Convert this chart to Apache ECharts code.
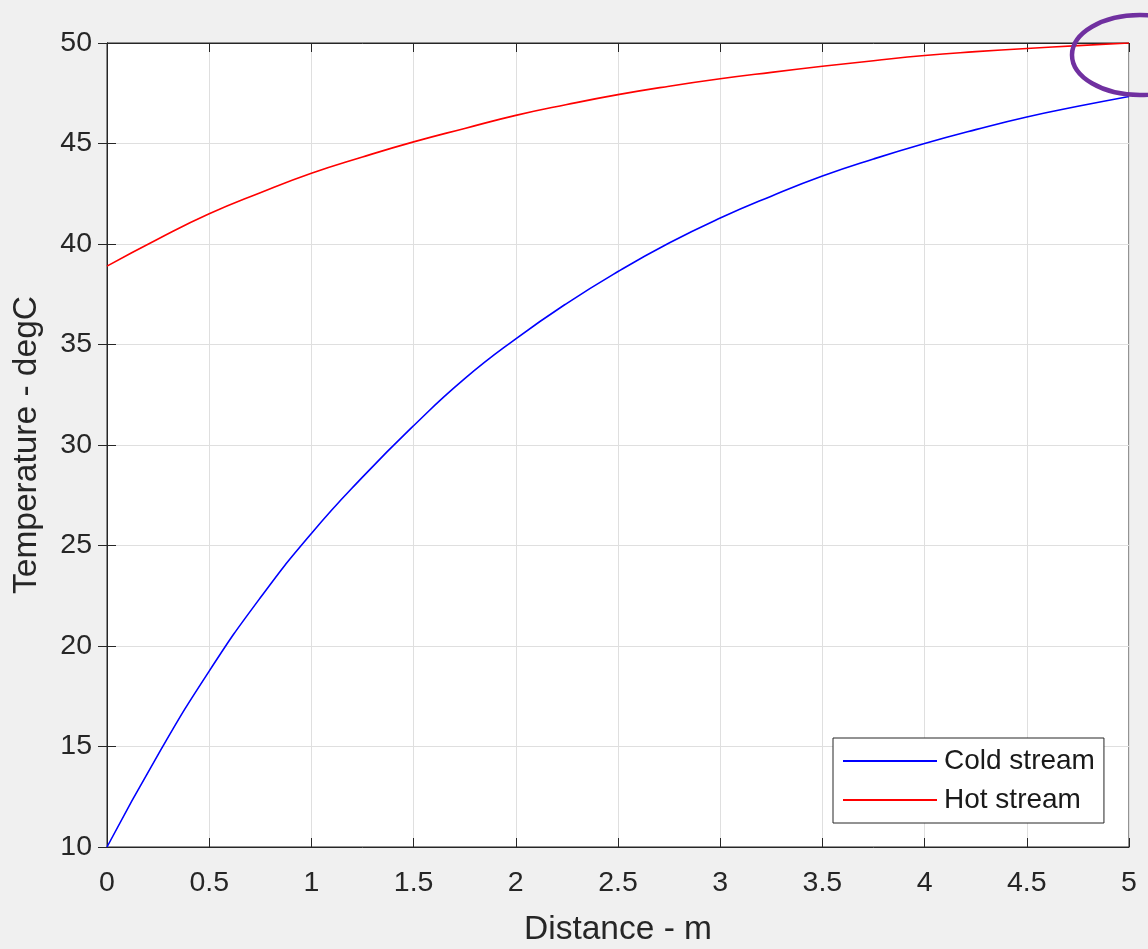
<!DOCTYPE html>
<html>
<head>
<meta charset="utf-8">
<script src="https://cdn.jsdelivr.net/npm/echarts@6/dist/echarts.min.js"></script>
<style>
html,body{margin:0;padding:0;background:#f0f0f0;}
#chart{width:1148px;height:949px;}
</style>
</head>
<body>
<div id="chart"></div>
<script>
// Distance along exchanger (m)
const distance = [0, 0.25, 0.5, 0.75, 1, 1.25, 1.5, 1.75, 2, 2.25, 2.5, 2.75, 3, 3.25, 3.5, 3.75, 4, 4.25, 4.5, 4.75, 5];
// Cold stream temperature (degC)
const coldStream = [10, 14.6, 18.75, 22.4, 25.6, 28.4, 30.96, 33.3, 35.28, 37.05, 38.63, 40.05, 41.29, 42.38, 43.38, 44.23, 45.0, 45.69, 46.32, 46.85, 47.34];
// Hot stream temperature (degC)
const hotStream = [38.9, 40.25, 41.5, 42.55, 43.52, 44.33, 45.08, 45.75, 46.4, 46.94, 47.43, 47.85, 48.22, 48.54, 48.84, 49.12, 49.38, 49.57, 49.73, 49.87, 50.0];
const seriesNames = ['Cold stream', 'Hot stream'];
const xTitle = 'Distance - m';
const yTitle = 'Temperature - degC';

const FONT = '"Liberation Sans", Arial, Helvetica, sans-serif';
const TXT = '#262626';

const pairs = (ys) => distance.map((x, i) => [x, ys[i]]);

const chart = echarts.init(document.getElementById('chart'), null, {renderer: 'canvas'});

const axisLine = {show: true, lineStyle: {color: TXT, width: 1}};
const tick = {show: true, inside: true, length: 9, lineStyle: {color: TXT, width: 1}};

chart.setOption({
  backgroundColor: '#f0f0f0',
  animation: false,
  textStyle: {fontFamily: FONT},
  grid: {
    left: 107, right: 19, top: 43, bottom: 102,
    show: true, backgroundColor: '#ffffff', borderColor: TXT, borderWidth: 1,
    containLabel: false, outerBoundsMode: 'none'
  },
  xAxis: [
    {
      type: 'value', min: 0, max: 5, interval: 0.5,
      name: xTitle, nameLocation: 'middle', nameGap: 66,
      nameTextStyle: {fontSize: 33.5, color: TXT, fontFamily: FONT},
      axisLine: axisLine, axisTick: tick,
      axisLabel: {fontSize: 28.5, color: TXT, margin: 22, fontFamily: FONT},
      splitLine: {show: true, lineStyle: {color: '#dfdfdf', width: 1}}
    },
    {
      type: 'value', position: 'top', min: 0, max: 5, interval: 0.5,
      axisLine: axisLine, axisTick: tick,
      axisLabel: {show: false}, splitLine: {show: false}
    }
  ],
  yAxis: [
    {
      type: 'value', min: 10, max: 50, interval: 5,
      name: yTitle, nameLocation: 'middle', nameGap: 63, nameRotate: 90,
      nameTextStyle: {fontSize: 33.5, color: TXT, fontFamily: FONT},
      axisLine: axisLine, axisTick: tick,
      axisLabel: {fontSize: 28.5, color: TXT, margin: 15, fontFamily: FONT},
      splitLine: {show: true, lineStyle: {color: '#dfdfdf', width: 1}}
    },
    {
      type: 'value', position: 'right', min: 10, max: 50, interval: 5,
      axisLine: axisLine, axisTick: tick,
      axisLabel: {show: false}, splitLine: {show: false}
    }
  ],
  legend: {
    orient: 'vertical',
    left: 833, top: 738,
    padding: [8, 9, 8, 10],
    icon: 'rect',
    itemWidth: 94, itemHeight: 2, itemGap: 9,
    backgroundColor: '#ffffff', borderColor: TXT, borderWidth: 1, borderRadius: 0,
    textStyle: {fontSize: 28, color: '#1a1a1a', fontFamily: FONT, lineHeight: 30, padding: [0, 0, 0, 2]},
    data: seriesNames
  },
  series: [
    {
      name: seriesNames[0], type: 'line', data: pairs(coldStream),
      smooth: 0.5, symbol: 'none', showSymbol: false,
      lineStyle: {color: '#0000ff', width: 1.6}, itemStyle: {color: '#0000ff'},
      z: 3
    },
    {
      name: seriesNames[1], type: 'line', data: pairs(hotStream),
      smooth: 0.5, symbol: 'none', showSymbol: false,
      lineStyle: {color: '#ff0000', width: 1.6}, itemStyle: {color: '#ff0000'},
      z: 3
    }
  ],
  graphic: [
    {
      type: 'ellipse', z: 100,
      shape: {cx: 1140, cy: 55, rx: 68, ry: 40},
      style: {fill: null, stroke: '#7030a0', lineWidth: 4.5}
    }
  ]
});
</script>
</body>
</html>
